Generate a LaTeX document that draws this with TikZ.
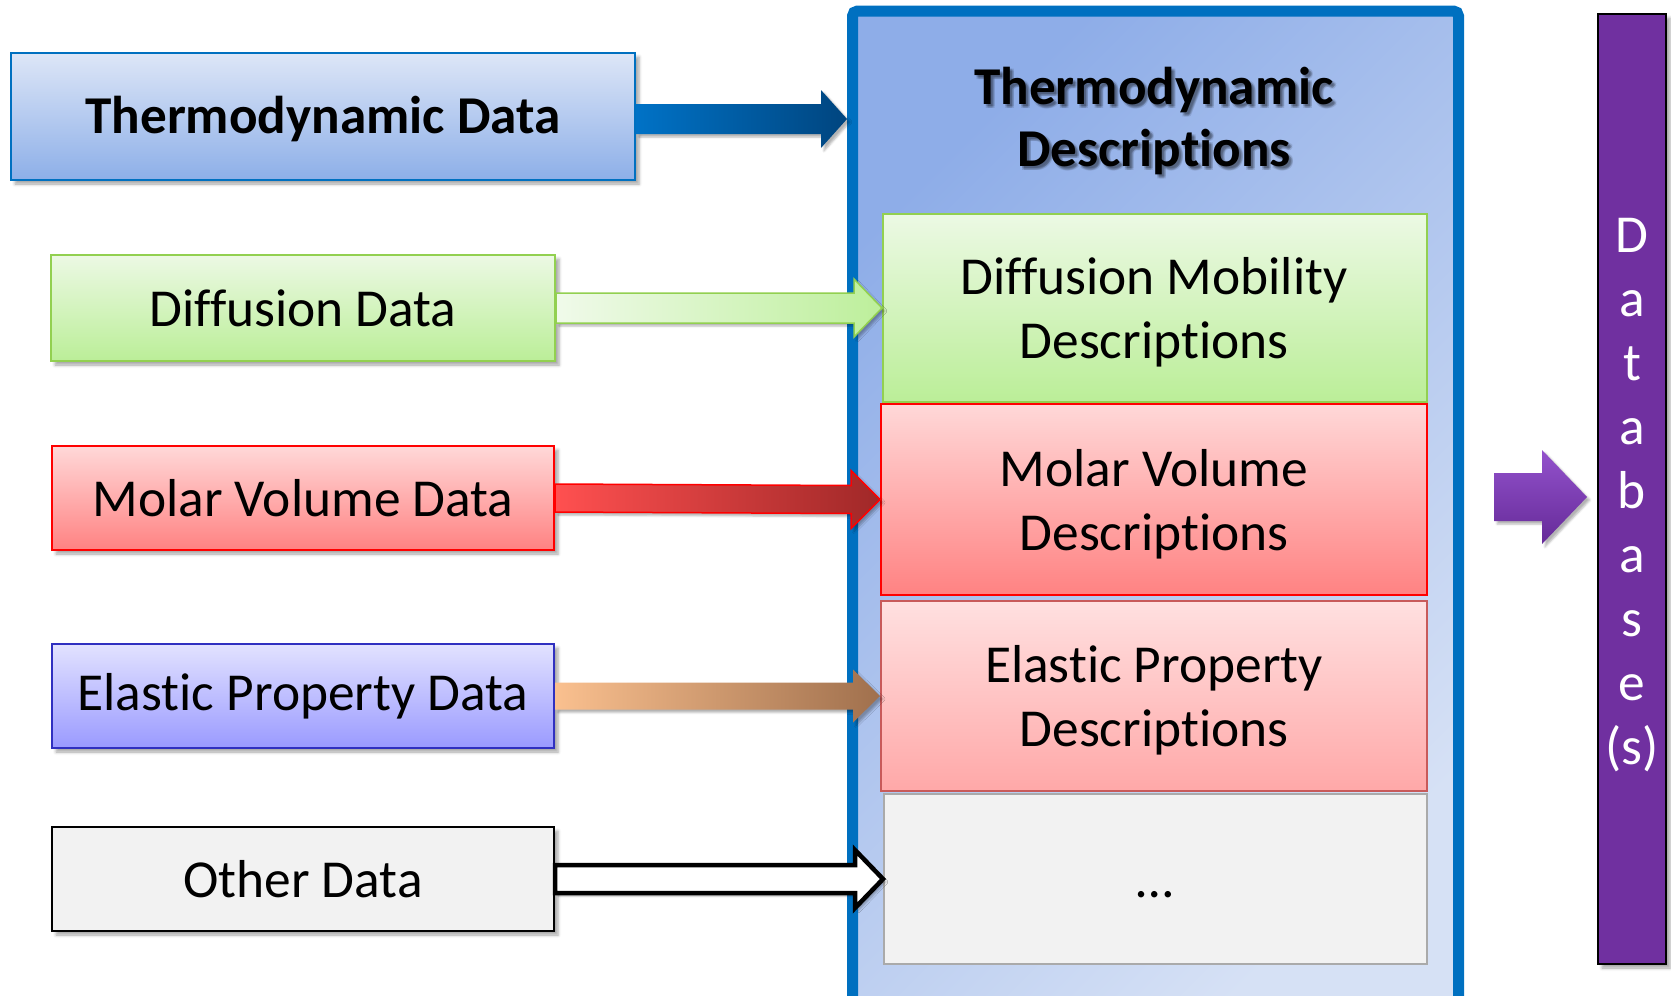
\documentclass[tikz,border=0pt]{standalone}
\usepackage{fontspec}
\setmainfont{Carlito}[Ligatures=NoCommon]
\usetikzlibrary{calc,shadows.blur}

\definecolor{frameblue}{HTML}{0070C0}
\definecolor{frametop}{HTML}{8EADE8}
\definecolor{framebot}{HTML}{D6E1F5}
\definecolor{thtop}{HTML}{DDE6F7}
\definecolor{thbot}{HTML}{8DAFE8}
\definecolor{grline}{HTML}{92D050}
\definecolor{grtop}{HTML}{ECF9E4}
\definecolor{grbot}{HTML}{BBEE98}
\definecolor{rdtop}{HTML}{FFD8D8}
\definecolor{rdbot}{HTML}{FF8282}
\definecolor{eptop}{HTML}{FFE0E0}
\definecolor{epbot}{HTML}{FFA8A8}
\definecolor{epline}{HTML}{C85A5A}
\definecolor{bltop}{HTML}{E2E2FF}
\definecolor{blbot}{HTML}{9A9AFF}
\definecolor{blline}{HTML}{3030C0}
\definecolor{greyfill}{HTML}{F2F2F2}
\definecolor{greyline}{HTML}{AAAAAA}
\definecolor{dbpurple}{HTML}{7030A0}
\definecolor{purtop}{HTML}{9352CC}
\definecolor{purbot}{HTML}{652A98}
\definecolor{arblueA}{HTML}{0072C6}
\definecolor{arblueB}{HTML}{00457F}
\definecolor{arredA}{HTML}{FF5050}
\definecolor{arredB}{HTML}{A02828}
\definecolor{arorA}{HTML}{FAC08F}
\definecolor{arorB}{HTML}{A0704D}
\definecolor{argrA}{HTML}{F0FAEA}
\definecolor{argrB}{HTML}{BDEF9B}

\newcommand\txtreg{\fontsize{53.4}{64}\selectfont}
\newcommand\txtbold{\fontsize{53.2}{61.5}\selectfont\bfseries}

% block arrow: style, tail point, tip point, shaft half height, head half height, head length
\newcommand\blockarrow[6]{%
  \path[#1] let \p1=#2, \p2=#3 in
    (\x1,{\y1+#4pt}) -- ({\x2-#6pt},{\y2+#4pt}) -- ({\x2-#6pt},{\y2+#5pt})
    -- (\x2,\y2) -- ({\x2-#6pt},{\y2-#5pt}) -- ({\x2-#6pt},{\y2-#4pt})
    -- (\x1,{\y1-#4pt}) -- cycle;}

\begin{document}
\begin{tikzpicture}[x=1pt,y=-1pt,
  softshadow/.style={blur shadow={shadow xshift=4pt,shadow yshift=-4pt,
      shadow blur radius=3pt,shadow opacity=35}},
  databox/.style={draw,line width=2pt,inner sep=0pt,minimum width=502pt,
      minimum height=104pt,align=center,font=\txtreg,softshadow},
  descbox/.style={draw,line width=2pt,inner sep=0pt,minimum width=546pt},
  desctext/.style={align=center,font=\txtreg,inner sep=0pt},
  arrowshadow/.style={blur shadow={shadow xshift=3pt,shadow yshift=-3pt,
      shadow blur radius=2pt,shadow opacity=30}},
]
\useasboundingbox (0,0) rectangle (1671,996);

% large frame holding the descriptions
\node[draw=frameblue,line width=11pt,rounded corners=5pt,inner sep=0pt,
      top color=frametop,bottom color=framebot,shading angle=45,
      minimum width=606pt,minimum height=999pt] (outer) at (1155.5,510.5) {};

% title of the frame, with a soft blurred shadow behind it
\foreach \dx/\dy [count=\i] in {2/2,4/4,2/4,4/2,3/3}
  \node[font=\txtbold,align=center,text=black,opacity=0.11] (titleshadow\i)
    at ($(1154,121)+(\dx,\dy)$) {Thermodynamic\\Descriptions};
\node[font=\txtbold,align=center] (title) at (1154,121) {Thermodynamic\\Descriptions};

% description boxes inside the frame
\node[descbox,draw=grline,top color=grtop,bottom color=grbot,
      minimum width=544pt,minimum height=188pt] (dm) at (1155,308) {};
\node[descbox,draw=red,top color=rdtop,bottom color=rdbot,
      minimum height=191pt] (mv) at (1154,499.5) {};
\node[descbox,draw=epline,top color=eptop,bottom color=epbot,
      minimum height=190pt] (ep) at (1154,696) {};
\node[descbox,draw=greyline,fill=greyfill,minimum width=543pt,
      minimum height=170pt] (dots) at (1155.5,879) {};

\node[desctext] (dmtext) at ($(dm.center)+(-1,4)$) {Diffusion Mobility\\Descriptions};
\node[desctext] (mvtext) at ($(mv.center)+(0,4.5)$) {Molar Volume\\Descriptions};
\node[desctext] (eptext) at ($(ep.center)+(0,4.5)$) {Elastic Property\\Descriptions};
\node[desctext,anchor=base] (dotstext) at (1155,897) {…};

% input data boxes
\node[databox,draw=frameblue,top color=thtop,bottom color=thbot,
      minimum width=624pt,minimum height=127pt,font=\txtbold,text depth=4pt]
      (td) at (323,116.5) {Thermodynamic Data};
\node[databox,draw=grline,top color=grtop,bottom color=grbot,
      minimum width=504pt,minimum height=106pt] (dd) at (303,308) {Diffusion Data};
\node[databox,draw=red,top color=rdtop,bottom color=rdbot] (md) at (303,498)
      {Molar Volume Data};
\node[databox,draw=blline,top color=bltop,bottom color=blbot] (ed) at (303,696)
      {Elastic Property Data};
\node[databox,draw=black,fill=greyfill] (od) at (303,879) {Other Data};

% database column
\node[draw=black,line width=2pt,fill=dbpurple,inner sep=0pt,minimum width=68pt,
      minimum height=950pt,softshadow] (db) at (1632,489) {};
\node[text=white,font=\txtreg,align=center,inner sep=0pt] (dbtext)
      at ($(db.center)+(0,6)$) {D\\a\\t\\a\\b\\a\\s\\e\\(s)};

% arrows from the data to the descriptions
\coordinate (tdtail) at ($(td.east)+(0,2.5)$);
\coordinate (tdtip) at ($(td.east -| outer.west)+(0,2.5)$);
\blockarrow{left color=arblueA,right color=arblueB,arrowshadow}{(tdtail)}{(tdtip)}{15}{29}{26}
\blockarrow{left color=argrA,right color=argrB,draw=grline,line width=1.5pt,arrowshadow}{(dd.east)}{(dm.west)}{15}{29}{28}
\blockarrow{left color=arredA,right color=arredB,draw=red,line width=1.5pt,arrowshadow}{(md.east)}{(mv.west)}{14}{29}{29}
\blockarrow{left color=arorA,right color=arorB,arrowshadow}{(ed.east)}{(ep.west)}{13.5}{26.5}{27}
\blockarrow{fill=white,draw=black,line width=4.5pt,arrowshadow}{(od.east)}{(dots.west)}{14}{29}{28}

% arrow from the frame to the database
\coordinate (dbtail) at ($(outer.east |- 0,497)+(30,0)$);
\coordinate (dbtip) at ($(db.west |- 0,497)+(-10,0)$);
\blockarrow{top color=purtop,bottom color=purbot,arrowshadow}{(dbtail)}{(dbtip)}{24}{47}{45}
\end{tikzpicture}
\end{document}
